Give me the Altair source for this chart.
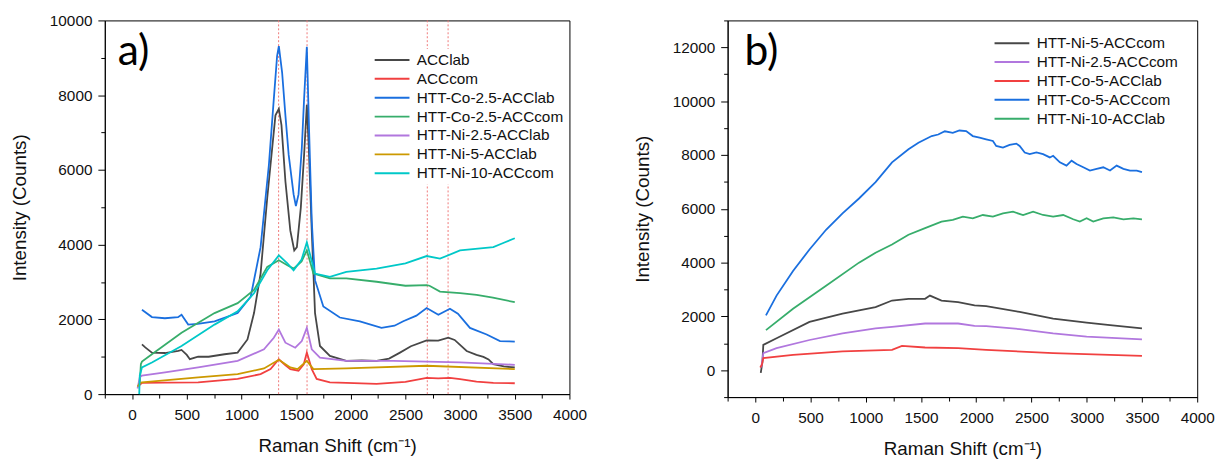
import altair as alt
import pandas as pd

# ---------------- Panel a data ----------------
a_names = ["ACClab", "ACCcom", "HTT-Co-2.5-ACClab", "HTT-Co-2.5-ACCcom",
           "HTT-Ni-2.5-ACClab", "HTT-Ni-5-ACClab", "HTT-Ni-10-ACCcom"]
a_colors = ["#474747", "#F14040", "#1A6FDF", "#37AD6B", "#B177DE", "#CC9900", "#00C8C8"]

a_acclab_x = [90, 120, 181, 300, 422, 452, 500, 528, 604, 700, 845, 965, 1055, 1115, 1175, 1236, 1266, 1311,
              1342, 1366, 1402, 1447, 1483, 1507, 1543, 1573, 1598, 1616, 1643, 1673, 1718, 1809, 1959, 2100,
              2236, 2350, 2450, 2550, 2694, 2800, 2892, 2950, 3060, 3150, 3213, 3260, 3304, 3400, 3500]
a_acclab_y = [1332, 1250, 1111, 1100, 1155, 1182, 1050, 934, 1005, 1000, 1067, 1111, 1463, 2169, 3227, 5256,
              6138, 7460, 7637, 7196, 5696, 4373, 3844, 3933, 4992, 6402, 7743, 6578, 4373, 2169, 1288, 1023,
              890, 900, 890, 950, 1111, 1280, 1437, 1430, 1508, 1450, 1155, 1050, 997, 930, 803, 740, 714]

a_acccom_x = [60, 90, 300, 604, 965, 1175, 1266, 1342, 1400, 1447, 1522, 1570, 1598, 1643, 1688, 1809, 1959,
              2236, 2500, 2694, 2800, 2907, 3000, 3150, 3304, 3500]
a_acccom_y = [220, 300, 310, 317, 405, 537, 670, 934, 780, 670, 627, 800, 1111, 670, 405, 317, 300, 273, 330,
              432, 420, 432, 400, 335, 300, 291]

a_co25lab_x = [90, 181, 300, 420, 452, 513, 600, 754, 965, 1085, 1175, 1251, 1296, 1326, 1342, 1372, 1402,
               1432, 1477, 1498, 1522, 1552, 1573, 1598, 1619, 1643, 1673, 1749, 1900, 2083, 2281, 2400, 2480,
               2600, 2694, 2801, 2907, 2980, 3090, 3243, 3365, 3450, 3500]
a_co25lab_y = [2257, 2063, 2030, 2060, 2125, 1860, 1880, 1949, 2169, 2611, 3933, 6138, 7902, 9048, 9312, 8606,
               7460, 6402, 5344, 5034, 5344, 6578, 7902, 9295, 7019, 4638, 3050, 2347, 2050, 1949, 1772, 1830,
               1949, 2100, 2302, 2125, 2284, 2150, 1772, 1596, 1420, 1410, 1402]

a_co25com_x = [70, 80, 90, 181, 452, 754, 965, 1115, 1236, 1342, 1420, 1477, 1550, 1598, 1658, 1809, 1959,
               2236, 2500, 2694, 2720, 2816, 3000, 3151, 3300, 3500]
a_co25com_y = [300, 800, 870, 1067, 1640, 2169, 2434, 2786, 3405, 3580, 3450, 3360, 3550, 3850, 3227, 3095,
               3095, 3007, 2900, 2918, 2900, 2743, 2700, 2654, 2580, 2460]

a_ni25lab_x = [50, 70, 90, 301, 604, 965, 1206, 1296, 1342, 1402, 1492, 1552, 1598, 1643, 1718, 1959, 2388,
               2999, 3500]
a_ni25lab_y = [150, 450, 494, 582, 714, 890, 1199, 1508, 1728, 1376, 1243, 1420, 1772, 1199, 979, 890, 890,
               847, 785]

a_ni5lab_x = [50, 70, 90, 604, 965, 1206, 1342, 1447, 1513, 1598, 1658, 1959, 2694, 3500]
a_ni5lab_y = [200, 300, 317, 450, 537, 688, 918, 714, 670, 890, 670, 688, 759, 670]

a_ni10com_x = [65, 70, 90, 181, 452, 754, 965, 1115, 1236, 1342, 1420, 1477, 1550, 1598, 1673, 1809, 1959,
               2236, 2500, 2694, 2816, 2999, 3304, 3400, 3500]
a_ni10com_y = [0, 500, 714, 847, 1288, 1860, 2214, 2698, 3315, 3712, 3500, 3315, 3600, 4066, 3227, 3139, 3272,
               3360, 3500, 3695, 3624, 3844, 3933, 4050, 4171]

peak_lines = [1340, 1600, 2700, 2890]

# ---------------- Panel b data ----------------
b_names = ["HTT-Ni-5-ACCcom", "HTT-Ni-2.5-ACCcom", "HTT-Co-5-ACClab", "HTT-Co-5-ACCcom", "HTT-Ni-10-ACClab"]
b_colors = ["#474747", "#B177DE", "#F14040", "#1A6FDF", "#37AD6B"]

b_ni5com_x = [50, 65, 73, 193, 491, 790, 1089, 1238, 1387, 1537, 1581, 1686, 1836, 1985, 2090, 2393, 2696,
              2999, 3211, 3500]
b_ni5com_y = [-100, 300, 939, 1184, 1797, 2101, 2347, 2589, 2651, 2651, 2772, 2589, 2530, 2406, 2380, 2164,
              1918, 1771, 1672, 1551]

b_ni25com_x = [55, 73, 193, 491, 790, 1089, 1238, 1537, 1836, 1985, 2090, 2393, 2696, 2999, 3500]
b_ni25com_y = [100, 634, 818, 1122, 1368, 1551, 1613, 1735, 1735, 1650, 1640, 1526, 1368, 1247, 1148]

b_co5lab_x = [45, 60, 73, 342, 790, 1238, 1328, 1537, 1836, 2090, 2696, 3500]
b_co5lab_y = [100, 205, 451, 572, 697, 755, 902, 843, 818, 755, 634, 535]

b_co5com_x = [97, 193, 342, 491, 641, 790, 939, 1089, 1238, 1387, 1477, 1597, 1656, 1716, 1788, 1848, 1909,
              1969, 2030, 2090, 2151, 2181, 2242, 2302, 2363, 2393, 2439, 2484, 2545, 2605, 2666, 2696, 2757,
              2817, 2863, 2908, 2969, 3029, 3090, 3150, 3211, 3271, 3332, 3392, 3453, 3500]
b_co5com_y = [2039, 2772, 3689, 4485, 5218, 5830, 6381, 6990, 7723, 8214, 8456, 8702, 8760, 8880, 8824, 8909,
              8885, 8702, 8641, 8580, 8519, 8336, 8275, 8373, 8421, 8336, 8091, 8030, 8091, 8030, 7908, 7969,
              7725, 7603, 7786, 7664, 7542, 7420, 7481, 7542, 7420, 7603, 7481, 7420, 7420, 7359]

b_ni10lab_x = [97, 342, 641, 939, 1089, 1238, 1387, 1537, 1686, 1788, 1879, 1969, 2060, 2151, 2242, 2333,
               2424, 2515, 2605, 2696, 2787, 2878, 2938, 2999, 3059, 3150, 3241, 3332, 3423, 3500]
b_ni10lab_y = [1489, 2285, 3139, 3997, 4364, 4668, 5035, 5281, 5523, 5585, 5707, 5646, 5768, 5707, 5829,
               5890, 5768, 5890, 5768, 5707, 5768, 5609, 5524, 5646, 5524, 5646, 5683, 5609, 5646, 5609]


def long_df(names, xs, ys):
    rows = []
    for name, xv, yv in zip(names, xs, ys):
        for i, (a, b) in enumerate(zip(xv, yv)):
            rows.append({"series": name, "x": a, "y": b, "i": i})
    return pd.DataFrame(rows)


df_a = long_df(a_names,
               [a_acclab_x, a_acccom_x, a_co25lab_x, a_co25com_x, a_ni25lab_x, a_ni5lab_x, a_ni10com_x],
               [a_acclab_y, a_acccom_y, a_co25lab_y, a_co25com_y, a_ni25lab_y, a_ni5lab_y, a_ni10com_y])
df_b = long_df(b_names,
               [b_ni5com_x, b_ni25com_x, b_co5lab_x, b_co5com_x, b_ni10lab_x],
               [b_ni5com_y, b_ni25com_y, b_co5lab_y, b_co5com_y, b_ni10lab_y])

X_TITLE = "Raman Shift (cm\u207b\u00b9)"
Y_TITLE = "Intensity (Counts)"


def x_axis():
    return alt.Axis(title=X_TITLE, values=list(range(-250, 4001, 250)), format="d",
                    labelExpr="datum.value % 500 === 0 ? datum.label : ''",
                    tickSize={"condition": {"test": "datum.value % 500 === 0", "value": 5}, "value": 4},
                    labelFlush=False, labelOverlap=False, labelPadding=9, titlePadding=14)


def y_axis(lo, hi):
    return alt.Axis(title=Y_TITLE, values=list(range(lo, hi + 1, 1000)), format="d",
                    labelExpr="datum.value % 2000 === 0 ? datum.label : ''",
                    tickSize={"condition": {"test": "datum.value % 2000 === 0", "value": 7}, "value": 4},
                    labelFlush=False, labelOverlap=False, labelPadding=6, titlePadding=20)


def legend(lx, ly):
    return alt.Legend(title=None, orient="none", legendX=lx, legendY=ly,
                      symbolType="M-2.2,0L2.2,0", symbolSize=256, symbolStrokeWidth=2,
                      symbolOffset=8.6, labelOffset=16, labelFont="Liberation Sans",
                      labelFontSize=15.5, labelColor="#111111", rowPadding=1.1, padding=2,
                      fillColor="white")


def panel(df, names, colors, ydom, lo, hi, w, h, lx, ly, tag, tagx, rules=None):
    xscale = alt.Scale(domain=[-250, 4000], nice=False, zero=False)
    lines = alt.Chart(df).mark_line(strokeWidth=1.8).encode(
        x=alt.X("x:Q", scale=xscale, axis=x_axis()),
        y=alt.Y("y:Q", scale=alt.Scale(domain=ydom, nice=False, zero=False), axis=y_axis(lo, hi)),
        color=alt.Color("series:N", scale=alt.Scale(domain=names, range=colors), legend=legend(lx, ly)),
        order="i:Q",
    )
    label = alt.Chart(pd.DataFrame({"t": [tag]})).mark_text(
        font="Lato", fontSize=43, align="left", baseline="alphabetic", color="black"
    ).encode(text="t:N", x=alt.value(tagx), y=alt.value(45))
    layers = []
    if rules is not None:
        layers.append(alt.Chart(pd.DataFrame({"x": rules})).mark_rule(
            color="#F07878", strokeDash=[2, 2], strokeWidth=1).encode(
            x=alt.X("x:Q", scale=xscale, axis=x_axis())))
    layers += [lines, label]
    return alt.layer(*layers).properties(width=w, height=h)


pa = panel(df_a, a_names, a_colors, [0, 10000], 0, 10000, 470, 378, 271, 29, "a)", 13, peak_lines)
pb = panel(df_b, b_names, b_colors, [-1000, 13000], -1000, 13000, 475, 381, 268, 12, "b)", 17)

chart = alt.hconcat(pa, pb, spacing=46).resolve_scale(color="independent").properties(
    padding={"left": 10, "top": 10, "right": 0, "bottom": 0}
).configure_view(stroke="black", strokeWidth=1).configure_axis(
    domainColor="black", domainWidth=1, tickColor="black", tickWidth=1,
    labelFont="Liberation Sans", labelFontSize=15.5, labelColor="#111111",
    titleFont="Liberation Sans", titleFontSize=19, titleFontWeight="normal", titleColor="#111111",
    grid=False
)

chart.save("out.html", embed_options={"renderer": "svg", "actions": False})
